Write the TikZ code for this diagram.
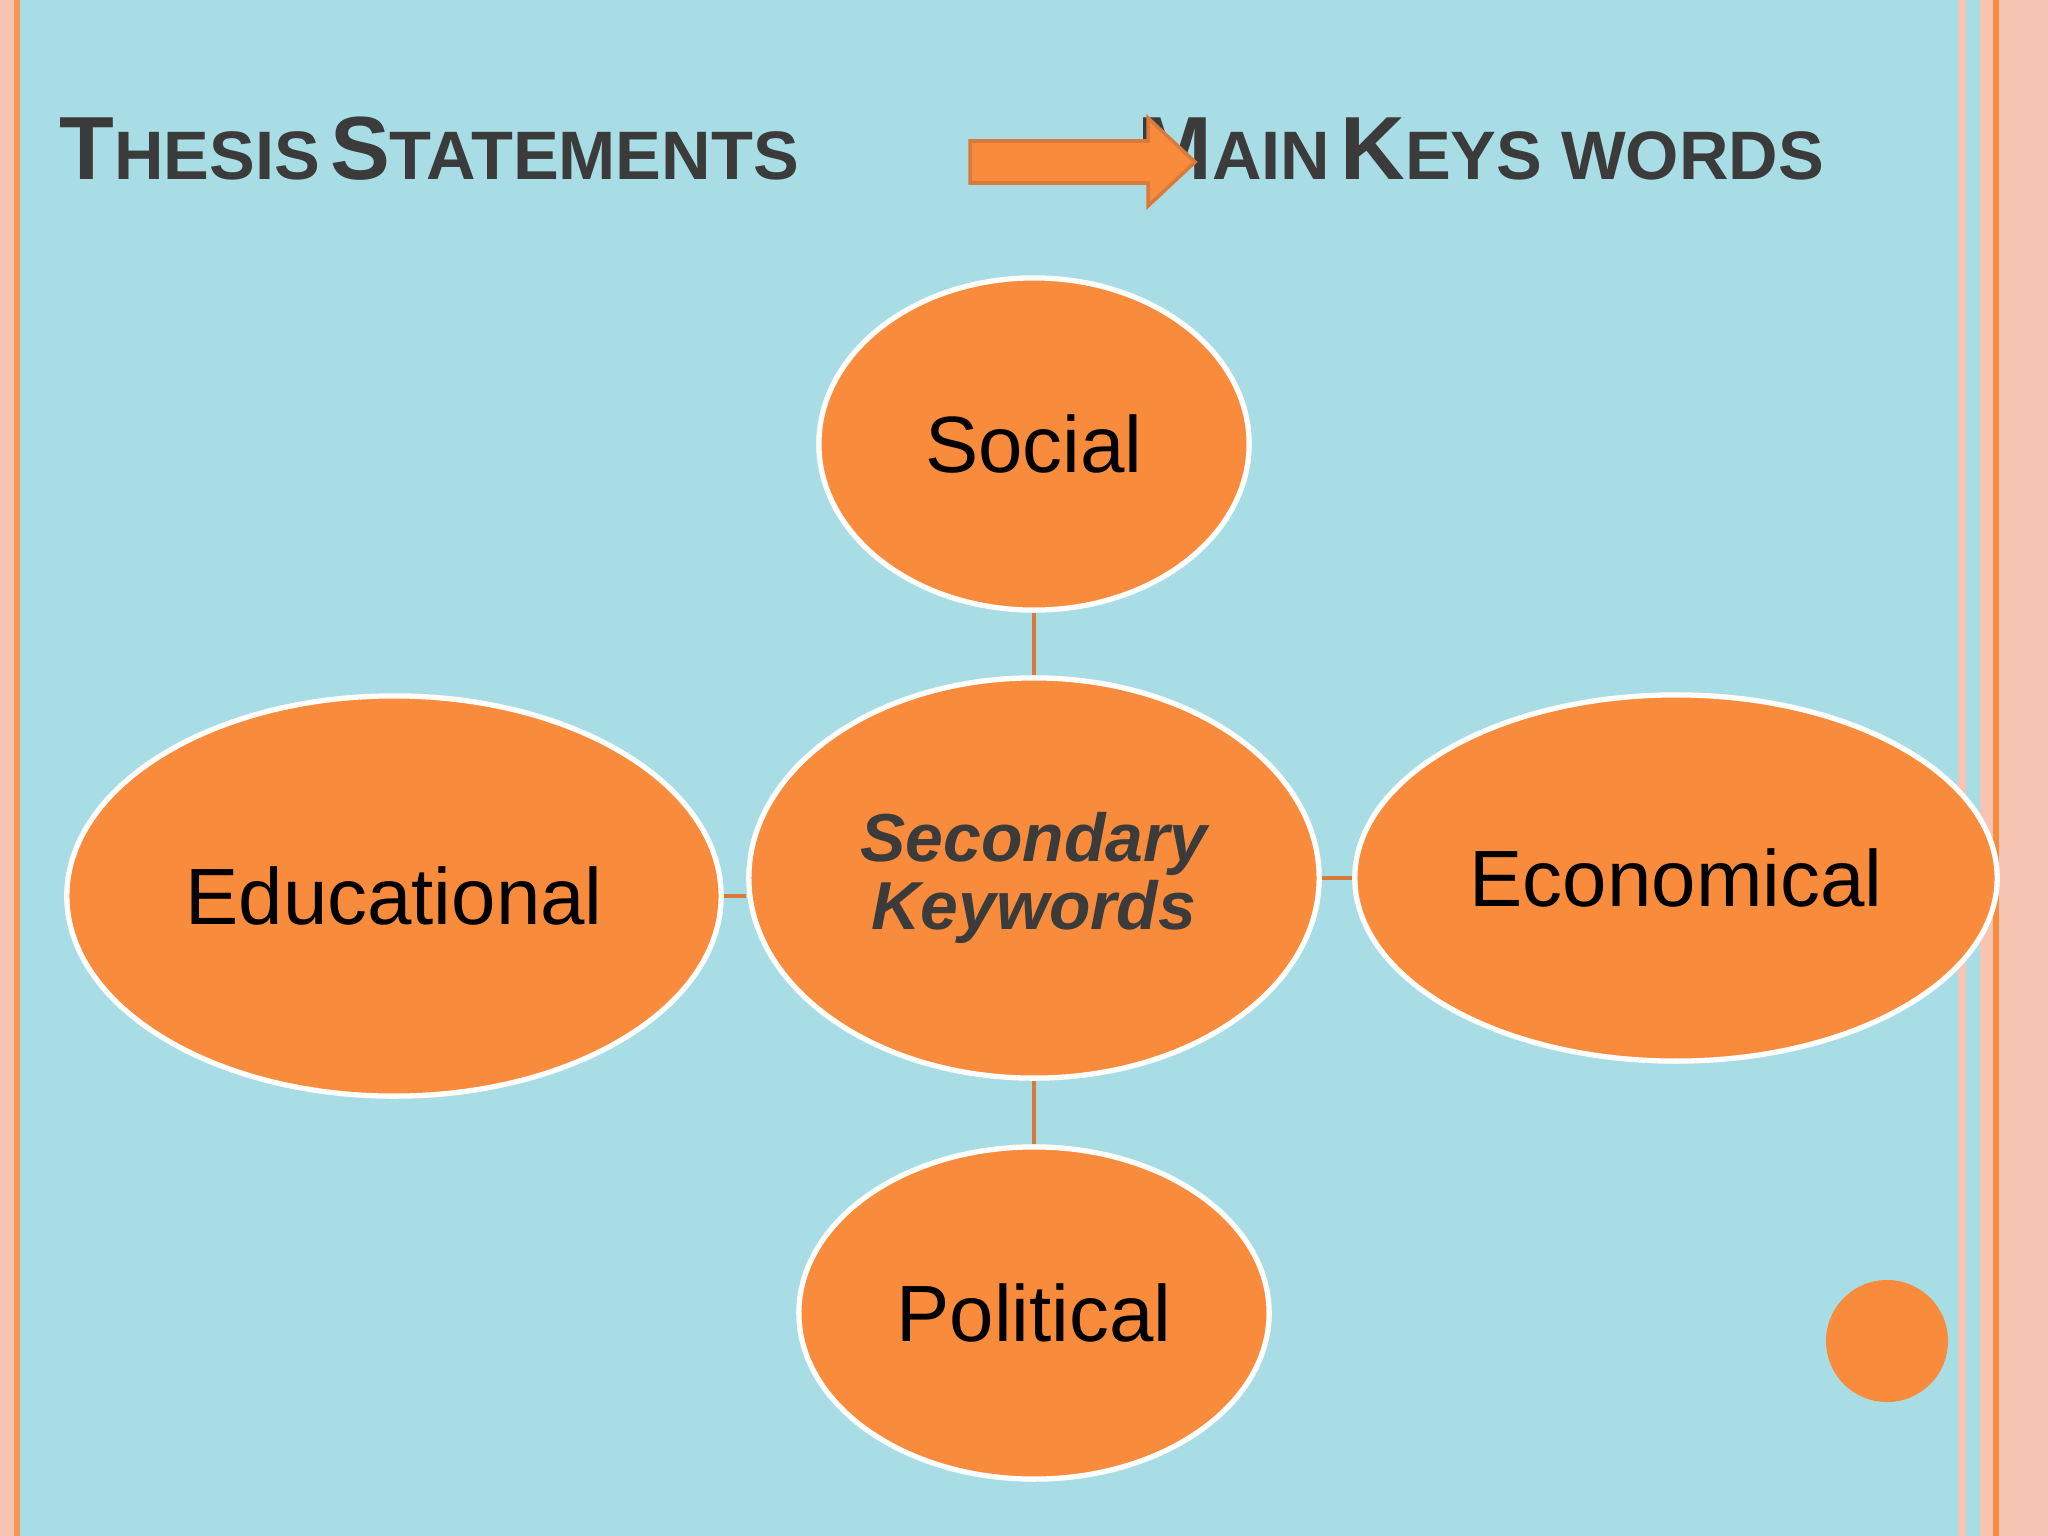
\documentclass[tikz,border=0pt]{standalone}
\usepackage{fontspec}
\setmainfont{Liberation Sans}
\usetikzlibrary{shapes.geometric}
\definecolor{bg}{HTML}{A9DDE6}
\definecolor{pinkb}{HTML}{F6C4B2}
\definecolor{org}{HTML}{F98B3C}
\definecolor{lnk}{HTML}{D9793A}
\definecolor{ttl}{HTML}{3B3B3B}
\tikzset{
  bub/.style={ellipse, fill=org, draw=white, line width=1.5pt, inner sep=0pt, font=\fontsize{22.7pt}{27pt}\selectfont},
  lnkline/.style={draw=lnk, line width=1.2pt},
}
\newcommand{\SC}[2]{{\fontsize{25.5pt}{30pt}\selectfont #1}{\fontsize{19.5pt}{24pt}\selectfont #2}}
\begin{document}
\begin{tikzpicture}[x=0.01cm,y=-0.01cm]
\useasboundingbox (0,0) rectangle (2048,1536);
\fill[bg] (0,0) rectangle (2048,1536);
\fill[pinkb] (0,0) rectangle (14,1536);
\draw[org!80!pinkb, line width=1.5pt] (17,0) -- (17,1536);
\fill[pinkb] (1958,0) rectangle (1966,1536);
\fill[pinkb] (1980,0) rectangle (2048,1536);
\draw[org, line width=1.5pt] (1996,0) -- (1996,1536);
% titles
\node[anchor=base west, text=ttl, font=\bfseries, inner sep=0pt] (t1) at (59,179) {\SC{T}{HESIS} \SC{S}{TATEMENTS}};
\node[anchor=base west, text=ttl, font=\bfseries, inner sep=0pt] (t2) at (1137,179) {\SC{M}{AIN} \SC{K}{EYS WORDS}};
% arrow
\fill[org, draw=lnk, line width=1pt] (970,141) -- (1148,141) -- (1148,118) -- (1195,162) -- (1148,206) -- (1148,183) -- (970,183) -- cycle;
% bubbles
\node[bub, minimum width=5.70cm, minimum height=4.00cm] (c) at (1034,878) {};
\node[text=ttl, font=\bfseries\itshape\fontsize{19.3pt}{19.5pt}\selectfont, align=center] (ct) at (1034,878) {Secondary\\Keywords};
\node[bub, minimum width=4.30cm, minimum height=3.32cm] (s) at (1034,444) {Social};
\node[bub, minimum width=6.54cm, minimum height=4.00cm] (e) at (394,896) {Educational};
\node[bub, minimum width=6.42cm, minimum height=3.66cm] (ec) at (1676,878) {Economical};
\node[bub, minimum width=4.70cm, minimum height=3.32cm] (p) at (1034,1313) {Political};
\draw[lnkline] (s) -- (c);
\draw[lnkline] (c) -- (p);
\draw[lnkline] (e.east) -- (c.west |- e.east);
\draw[lnkline] (c.east) -- (ec.west);
\node[circle, fill=org, minimum size=1.22cm, inner sep=0pt] (dot) at (1887,1341) {};
\end{tikzpicture}
\end{document}
